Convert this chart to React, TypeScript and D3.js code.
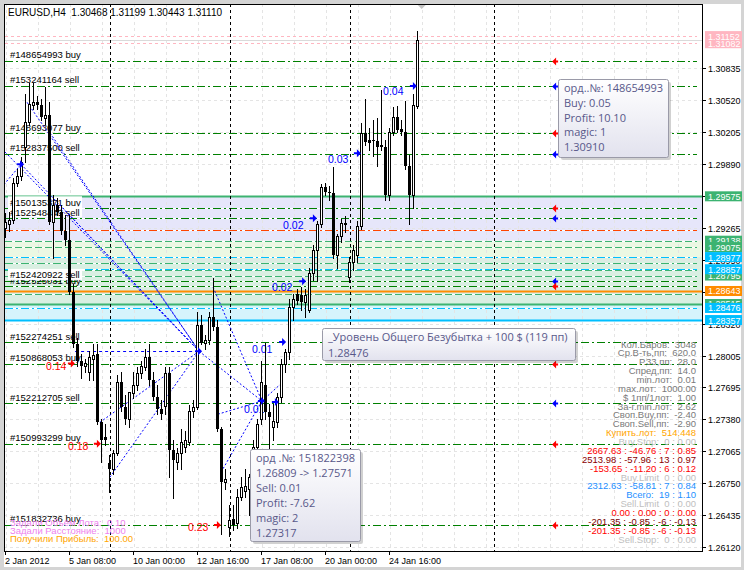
import React from "react";
import * as d3 from "d3";

const W = 744;
const H = 570;
const PL = 4, PT = 4, PR = 702, PB = 551;
const F = "'Liberation Sans', Arial, sans-serif";
const TF = "'Open Sans', 'Liberation Sans', sans-serif";

// ---- Data ----
const symbolTitle = "EURUSD,H4  1.30468 1.31199 1.30443 1.31110";
const timeLabels = ["2 Jan 2012", "5 Jan 08:00", "10 Jan 00:00", "12 Jan 16:00", "17 Jan 08:00", "20 Jan 00:00", "24 Jan 16:00"];
const timeLabelBars = [0, 16, 32, 48, 64, 80, 96];
const separatorBars = [26, 56, 86, 122];
const priceTicks = [1.30835, 1.3052, 1.30205, 1.2989, 1.2958, 1.29265, 1.2895, 1.28635, 1.2832, 1.28005, 1.27695, 1.2738, 1.27065, 1.2675, 1.26435, 1.2612];

const opens = [
  1.2926, 1.2930, 1.2934, 1.2971, 1.2977, 1.3006, 1.3031, 1.3047, 1.3050, 1.3047,
  1.3035, 1.3038, 1.2932, 1.2949, 1.2942, 1.2923, 1.2914, 1.2863, 1.2812, 1.2795,
  1.2790, 1.2785, 1.2797, 1.2802, 1.2735, 1.2721, 1.2695, 1.2689, 1.2705, 1.2775,
  1.2750, 1.2738, 1.2764, 1.2772, 1.2784, 1.2789, 1.2799, 1.2777, 1.2760, 1.2748,
  1.2751, 1.2784, 1.2708, 1.2696, 1.2705, 1.2711, 1.2716, 1.2746, 1.2750, 1.2831,
  1.2813, 1.2816, 1.2839, 1.2829, 1.2728, 1.2676, 1.2632, 1.2640, 1.2636, 1.2662,
  1.2667, 1.2669, 1.2682, 1.2711, 1.2738, 1.2772, 1.2745, 1.2730, 1.2735, 1.2760,
  1.2792, 1.2804, 1.2849, 1.2861, 1.2860, 1.2853, 1.2846, 1.2882, 1.2905, 1.2930,
  1.2967, 1.2962, 1.2961, 1.2900, 1.2918, 1.2930, 1.2878, 1.2893, 1.2900, 1.2928,
  1.3020, 1.3013, 1.3013, 1.3012, 1.3008, 1.3006, 1.2959, 1.3021, 1.3036, 1.3024,
  1.3021, 1.2987, 1.2959, 1.30468,
];
const highs = [
  1.2941, 1.2942, 1.2976, 1.2984, 1.2996, 1.3058, 1.3069, 1.3069, 1.3056, 1.3053,
  1.3065, 1.3050, 1.2959, 1.2956, 1.2949, 1.2939, 1.2939, 1.2871, 1.2818, 1.2802,
  1.2797, 1.2805, 1.2812, 1.2812, 1.2738, 1.2733, 1.2703, 1.2708, 1.2782, 1.2785,
  1.2762, 1.2757, 1.2785, 1.2789, 1.2795, 1.2807, 1.2812, 1.2785, 1.2772, 1.2757,
  1.2789, 1.2789, 1.2718, 1.2710, 1.2728, 1.2726, 1.2752, 1.2757, 1.2844, 1.2841,
  1.2821, 1.2844, 1.2877, 1.2836, 1.2730, 1.2689, 1.2654, 1.2654, 1.2669, 1.2681,
  1.2689, 1.2684, 1.2718, 1.2738, 1.2795, 1.2813, 1.2753, 1.2753, 1.2764, 1.2797,
  1.2807, 1.2856, 1.2861, 1.2866, 1.2868, 1.2866, 1.2887, 1.2910, 1.2933, 1.2970,
  1.2971, 1.2968, 1.2986, 1.2920, 1.2935, 1.2938, 1.2898, 1.2910, 1.2933, 1.3030,
  1.3053, 1.3025, 1.3033, 1.3035, 1.3062, 1.3013, 1.3025, 1.3045, 1.3046, 1.3033,
  1.3051, 1.2998, 1.3058, 1.31199,
];
const lows = [
  1.2917, 1.2923, 1.2931, 1.2968, 1.2974, 1.2991, 1.3028, 1.3043, 1.3043, 1.3033,
  1.3029, 1.2930, 1.2897, 1.2939, 1.2920, 1.2910, 1.2861, 1.2809, 1.2790, 1.2779,
  1.2785, 1.2777, 1.2777, 1.2733, 1.2696, 1.2713, 1.2666, 1.2684, 1.2703, 1.2746,
  1.2733, 1.2730, 1.2759, 1.2767, 1.2779, 1.2787, 1.2772, 1.2757, 1.2743, 1.2738,
  1.2743, 1.2681, 1.2661, 1.2689, 1.2689, 1.2706, 1.2713, 1.2740, 1.2748, 1.2812,
  1.2807, 1.2812, 1.2826, 1.2726, 1.2625, 1.2669, 1.2623, 1.2629, 1.2631, 1.2659,
  1.2662, 1.2644, 1.2679, 1.2708, 1.2733, 1.2738, 1.2708, 1.2718, 1.2730, 1.2755,
  1.2785, 1.2797, 1.2836, 1.2851, 1.2846, 1.2839, 1.2844, 1.2875, 1.2874, 1.2927,
  1.2959, 1.2954, 1.2897, 1.2887, 1.2913, 1.2922, 1.2873, 1.2885, 1.2893, 1.2925,
  1.3008, 1.3003, 1.2997, 1.2987, 1.3003, 1.2954, 1.2954, 1.3018, 1.3021, 1.3018,
  1.2984, 1.2930, 1.2946, 1.30443,
];
const closes = [
  1.2932, 1.2934, 1.2971, 1.2977, 1.2991, 1.3031, 1.3048, 1.3050, 1.3047, 1.3036,
  1.3038, 1.2932, 1.2949, 1.2942, 1.2923, 1.2914, 1.2863, 1.2812, 1.2795, 1.2790,
  1.2793, 1.2799, 1.2801, 1.2735, 1.2718, 1.2718, 1.2689, 1.2705, 1.2775, 1.2750,
  1.2738, 1.2765, 1.2772, 1.2784, 1.2790, 1.2799, 1.2777, 1.2760, 1.2748, 1.2743,
  1.2784, 1.2708, 1.2698, 1.2705, 1.2716, 1.2718, 1.2746, 1.2750, 1.2831, 1.2813,
  1.2816, 1.2839, 1.2829, 1.2728, 1.2676, 1.2679, 1.2639, 1.2634, 1.2662, 1.2671,
  1.2672, 1.2681, 1.2711, 1.2733, 1.2775, 1.2745, 1.2740, 1.2736, 1.2760, 1.2792,
  1.2804, 1.2849, 1.2856, 1.2854, 1.2853, 1.2860, 1.2882, 1.2905, 1.2930, 1.2967,
  1.2962, 1.2961, 1.2900, 1.2918, 1.2931, 1.2931, 1.2893, 1.2905, 1.2928, 1.3020,
  1.3011, 1.3010, 1.3012, 1.3006, 1.3006, 1.2959, 1.3021, 1.3036, 1.3023, 1.3021,
  1.2987, 1.2959, 1.3047, 1.31110,
];

const orderPrices = [1.3091, 1.30661, 1.30195, 1.29994, 1.29457, 1.29359, 1.28742, 1.28692, 1.28138, 1.27925, 1.27538, 1.27137, 1.2634];
const orderTickets = ["#148654993", "#153241164", "#148693077", "#152837500", "#150135371", "#152548449", "#152420922", "#152525031", "#152274251", "#150868053", "#152212705", "#150993299", "#151832736"];
const orderTypes = ["buy", "sell", "buy", "sell", "buy", "sell", "sell", "buy", "sell", "buy", "sell", "buy", "buy"];
const orderHasMarker = [true, true, true, true, true, true, true, true, false, true, true, true, true];
const orderLabelBoxed = [false, false, false, false, true, true, true, false, false, false, false, false, false];
const orderLabelOrder = [0, 1, 2, 3, 4, 5, 7, 6, 8, 9, 10, 11, 12];

const bandEdges = [1.29575, 1.29138, 1.28977, 1.28515, 1.28357];
const bandColors = ["#e6e6fa", "#ebf8e3", "#d9efe2", "#d6f4fc"];

const levelPrices = [1.31152, 1.31082, 1.29575, 1.29243, 1.29138, 1.29075, 1.28918, 1.28977, 1.28845, 1.28857, 1.28795, 1.28643, 1.28611, 1.28515, 1.28476, 1.28357];
const levelColors = ["#ffb6c1", "#ffb6c1", "#3cb371", "#ff4500", "#3cb371", "#3cb371", "#3cb371", "#00bfff", "#3cb371", "#00bfff", "#3cb371", "#ff8c00", "#3cb371", "#3cb371", "#00bfff", "#00bfff"];
const levelStyles = ["dash", "dash", "solid", "dashdot", "dashlong", "dashlong", "dashdot", "dashdot", "dashlong", "dashdot", "dashlong", "solid", "dashlong", "solid", "dashdot", "solid"];

const axisBadgePrices = [1.31082, 1.31152, 1.29575, 1.29138, 1.29075, 1.28977, 1.28795, 1.28857, 1.28643, 1.28515, 1.28476, 1.28357];
const axisBadgeColors = ["#ffb6c1", "#ffb6c1", "#3cb371", "#3cb371", "#3cb371", "#00bfff", "#3cb371", "#00bfff", "#ff8c00", "#3cb371", "#00bfff", "#00bfff"];

const bidPrice = 1.3111;

// blue dotted trade links: [bar1, price1, bar2, price2]
const tradeLinks = [
  [0.1, 1.3001, 48.6, 1.2805],
  [4.1, 1.2989, 48.6, 1.2805],
  [5.6, 1.3050, 48.6, 1.2805],
  [10.8, 1.3023, 48.6, 1.2805],
  [13.8, 1.2949, 48.6, 1.2805],
  [26.3, 1.2681, 48.6, 1.2805],
  [23.8, 1.2735, 48.6, 1.2805],
  [-0.2, 1.2969, 4.1, 1.2989],
  [48.6, 1.2805, 64.3, 1.2756],
  [52.1, 1.2868, 64.3, 1.2756],
  [54.1, 1.2686, 64.3, 1.2756],
  [53.3, 1.2743, 64.3, 1.2756],
  [64.3, 1.2756, 68.8, 1.2772],
];
const tradeHLink = [17.6, 1.2805, 48.6, 1.2805];

const blueArrowBars = [4.1, 48.6, 64.3, 67.8, 69.6, 74.6, 77.3, 88.3, 102.3];
const blueArrowPrices = [1.2989, 1.2805, 1.2756, 1.2755, 1.2814, 1.2874, 1.2936, 1.3000, 1.3066];
const redArrowBars = [16.8, 23.3, 53.3];
const redArrowPrices = [1.2793, 1.2714, 1.2634];
const blueLotBars = [69.6, 66.8, 80.8, 94.6, 61.8, 59.8];
const blueLotPrices = [1.2925, 1.2864, 1.2990, 1.3057, 1.2803, 1.2744];
const blueLots = ["0.02", "0.02", "0.03", "0.04", "0.01", "0.01"];
const redLotBars = [10.3, 15.8, 45.8];
const redLotPrices = [1.2787, 1.2708, 1.2628];
const redLots = ["0.14", "0.18", "0.23"];
const markerBar = 137.6;
const shiftBar = 104.25;

const panelTexts = [
  "Кол.Баров:  3048", "Ср.В-ть,пп:  620.0", "Р.33,пп:  28.0", "Спред,пп:  14.0", "min.лот:  0.01",
  "max.лот:  1000.00", "$ 1пп/1лот:  1.00", "За-г.min.лот:  2.62", "Своп.Buy,пп:  -2.40", "Своп.Sell,пп:  -2.90",
  "Купить.лот:  514.448", "Buy.Stop:  0 : 0.00", "2667.63 : -46.76 : 7 : 0.85", "2513.98 : -57.96 : 13 : 0.97",
  "-153.65 : -11.20 : 6 : 0.12", "Buy.Limit  0 : 0.00", "2312.63 : -58.81 : 7 : 0.84", "Всего:  19 : 1.10",
  "Sell.Limit  0 : 0.00", "0.00 : 0.00 : 0 : 0.00", "-201.35 : -0.85 : -6 : -0.13", "-201.35 : -0.85 : -6 : -0.13", "Sell.Stop:  0 : 0.00",
];
const panelColors = [
  "#7a7a7a", "#7a7a7a", "#7a7a7a", "#7a7a7a", "#7a7a7a", "#7a7a7a", "#7a7a7a", "#7a7a7a", "#7a7a7a", "#7a7a7a",
  "#ffa500", "#c0c0c0", "#ff0000", "#8b0000", "#ff0000", "#c0c0c0", "#1e90ff", "#1e90ff", "#c0c0c0", "#ff0000",
  "#7a0000", "#ff0000", "#c0c0c0",
];
const infoTexts = ["Задали Объём Лота:  0.10", "Задали Расстояние:  1000", "Получили Прибыль:  100.00"];
const infoColors = ["#ee82ee", "#ee82ee", "#ffa500"];

const tip1 = ["орд..№: 148654993", "Buy: 0.05", "Profit: 10.10", "magic: 1", "1.30910"];
const tip2 = ["_Уровень Общего Безубытка + 100 $ (119 пп)", "1.28476"];
const tip3 = ["орд .№: 151822398", "1.26809 -> 1.27571", "Sell: 0.01", "Profit: -7.62", "magic: 2", "1.27317"];

// ---- Scales ----
const x = d3.scaleLinear().domain([0, 103]).range([4.7, 416.7]);
const y = d3.scaleLinear().domain([1.2612, 1.30835]).range([547.3, 68.3]);

const dashFor = (s: string) =>
  s === "dash" ? "3,3" : s === "dashdot" ? "8,3,2,3" : s === "dashlong" ? "7,3" : undefined;

function Tooltip({ x0, y0, w, h, lines, step }: any) {
  return (
    <g>
      <rect x={x0 + 3} y={y0 + 3} width={w} height={h} fill="#000" opacity={0.18} rx={2} />
      <rect x={x0 + 0.5} y={y0 + 0.5} width={w} height={h} fill="url(#tipg)" stroke="#9a9aa8" rx={2} />
      {lines.map((t: string, k: number) => (
        <text key={k} x={x0 + 6} y={y0 + 13 + k * step} fontFamily={TF} fontSize={11} fill="#58588a" style={{ whiteSpace: "pre" }}>
          {t}
        </text>
      ))}
    </g>
  );
}

export default function App() {
  const px = (v: number) => Math.round(v);
  const arrowRight = (cx: number, cy: number) =>
    `M${cx - 4},${cy - 1}h3v-3l4,4l-4,4v-3h-3z`;
  const markerLeft = (cx: number, cy: number) =>
    `M${cx - 3},${cy}l4,-4v8z M${cx + 1},${cy - 1}h2v2h-2z`;

  const vGrid: number[] = [];
  for (let i = 0; x(i) < PR; i += 8) vGrid.push(i);

  return (
    <svg width={W} height={H} style={{ position: "absolute", left: 0, top: 0, display: "block" }}>
      <defs>
        <linearGradient id="tipg" x1="0" y1="0" x2="0" y2="1">
          <stop offset="0" stopColor="#ffffff" />
          <stop offset="1" stopColor="#e2e2ee" />
        </linearGradient>
        <clipPath id="plot">
          <rect x={PL + 1} y={PT + 1} width={PR - PL - 1} height={PB - PT - 1} />
        </clipPath>
      </defs>
      <rect x={0} y={0} width={W} height={H} fill="#d4d4d4" />
      <rect x={PL} y={PT} width={741 - PL} height={567 - PT} fill="#ffffff" />

      <g clipPath="url(#plot)">
        {bandColors.map((c, k) => (
          <rect key={k} x={PL} y={y(bandEdges[k])} width={PR - PL} height={y(bandEdges[k + 1]) - y(bandEdges[k])} fill={c} />
        ))}
        {priceTicks.map((p, k) => (
          <line key={k} x1={PL} x2={PR} y1={px(y(p)) + 0.5} y2={px(y(p)) + 0.5} stroke="#e4e4e4" strokeDasharray="3,3" />
        ))}
        {vGrid.map((i) => (
          <line key={i} x1={px(x(i)) + 1.5} x2={px(x(i)) + 1.5} y1={PT} y2={PB} stroke="#e4e4e4" strokeDasharray="3,3" />
        ))}
        <line x1={PL} x2={PR} y1={px(y(bidPrice)) + 0.5} y2={px(y(bidPrice)) + 0.5} stroke="#dadada" />
        {levelPrices.map((p, k) => {
          const yy = px(y(p)) + 0.5;
          const st = levelStyles[k];
          if (st === "solid")
            return <line key={k} x1={PL} x2={PR} y1={yy} y2={yy} stroke={levelColors[k]} strokeWidth={2} />;
          return (
            <g key={k}>
              <line x1={PL + 1} x2={697} y1={yy} y2={yy} stroke="#ffffff" />
              <line x1={PL + 1} x2={697} y1={yy} y2={yy} stroke={levelColors[k]} strokeDasharray={dashFor(st)} />
            </g>
          );
        })}
        {orderPrices.map((p, k) => {
          const yy = px(y(p)) + 0.5;
          return (
            <g key={k}>
              <line x1={PL + 1} x2={697} y1={yy} y2={yy} stroke="#ffffff" />
              <line x1={PL + 1} x2={697} y1={yy} y2={yy} stroke="#008000" strokeDasharray="8,3,2,3" />
            </g>
          );
        })}
        {separatorBars.map((i) => (
          <line key={i} x1={px(x(i)) + 1.5} x2={px(x(i)) + 1.5} y1={PT} y2={PB} stroke="#000" strokeDasharray="3,3" />
        ))}
        {orderLabelOrder.map((k) => {
          const yy = y(orderPrices[k]);
          const label = `${orderTickets[k]} ${orderTypes[k]}`;
          return (
            <g key={k}>
              {orderLabelBoxed[k] && <rect x={8} y={yy - 12} width={74} height={11} fill="#ffffff" />}
              <text x={10} y={yy - 2.5} fontFamily={F} fontSize={9.5} fill="#000">{label}</text>
            </g>
          );
        })}
        {blueLots.map((t, k) => (
          <text key={k} x={x(blueLotBars[k])} y={y(blueLotPrices[k])} fontFamily={F} fontSize={10.5} fill="#0000ff">{t}</text>
        ))}
        {redLots.map((t, k) => (
          <text key={k} x={x(redLotBars[k])} y={y(redLotPrices[k])} fontFamily={F} fontSize={10.5} fill="#ff0000">{t}</text>
        ))}
        {tradeLinks.map((s, k) => (
          <line key={k} x1={x(s[0])} y1={y(s[1])} x2={x(s[2])} y2={y(s[3])} stroke="#0000ff" strokeDasharray="2,2" />
        ))}
        <line x1={x(tradeHLink[0])} x2={x(tradeHLink[2])} y1={px(y(tradeHLink[1])) + 0.5} y2={px(y(tradeHLink[3])) + 0.5} stroke="#0000ff" strokeDasharray="3,3" />
        <g shapeRendering="crispEdges">
          {opens.map((o, i) => {
            const c = closes[i];
            const hi = Math.max(highs[i], o, c);
            const lo = Math.min(lows[i], o, c);
            const cx = px(x(i));
            const yo = y(o), yc = y(c);
            const top = px(Math.min(yo, yc));
            const bot = px(Math.max(yo, yc));
            const bull = c >= o;
            return (
              <g key={i}>
                <line x1={cx + 0.5} x2={cx + 0.5} y1={px(y(hi))} y2={px(y(lo)) + 1} stroke="#000" />
                {bull ? (
                  <rect x={cx - 0.5} y={top + 0.5} width={2} height={Math.max(bot - top, 0)} fill="#fff" stroke="#000" />
                ) : (
                  <rect x={cx - 1} y={top} width={3} height={Math.max(bot - top, 1)} fill="#000" />
                )}
              </g>
            );
          })}
        </g>
        {blueArrowBars.map((b, k) => (
          <path key={k} d={arrowRight(x(b), y(blueArrowPrices[k]))} fill="#0000ff" />
        ))}
        {redArrowBars.map((b, k) => (
          <path key={k} d={arrowRight(x(b), y(redArrowPrices[k]))} fill="#ff0000" />
        ))}
        {orderPrices.map((p, k) =>
          orderHasMarker[k] ? (
            <path key={k} d={markerLeft(x(markerBar), px(y(p)) + 0.5)} fill={orderTypes[k] === "buy" ? "#ff0000" : "#0000ff"} />
          ) : null
        )}
      </g>

      <path d={`M${x(shiftBar) - 4},${PT + 1}h8l-4,4z`} fill="#c4c4c4" />

      <rect x={PL + 0.5} y={PT + 0.5} width={PR - PL} height={PB - PT} fill="none" stroke="#000" />

      {priceTicks.map((p, k) => {
        const yy = px(y(p)) + 0.5;
        return (
          <g key={k}>
            <line x1={PR} x2={PR + 4} y1={yy} y2={yy} stroke="#000" />
            <text x={PR + 6} y={yy + 3.5} fontFamily={F} fontSize={9} fill="#000">{p.toFixed(5)}</text>
          </g>
        );
      })}
      {axisBadgePrices.map((p, k) => {
        const yy = y(p);
        return (
          <g key={k}>
            <rect x={PR + 3} y={yy - 5} width={37} height={10} fill={axisBadgeColors[k]} />
            <text x={PR + 6} y={yy + 3.5} fontFamily={F} fontSize={9} fill="#ffffff">{p.toFixed(5)}</text>
          </g>
        );
      })}

      {timeLabelBars.map((b, k) => (
        <g key={k}>
          <line x1={px(x(b)) + 0.5} x2={px(x(b)) + 0.5} y1={PB} y2={PB + 4} stroke="#000" />
          <text x={px(x(b))} y={563.5} fontFamily={F} fontSize={9} fill="#000">{timeLabels[k]}</text>
        </g>
      ))}

      <text x={8} y={16} fontFamily={F} fontSize={10} fill="#000" style={{ whiteSpace: "pre" }}>{symbolTitle}</text>

      {panelTexts.map((t, k) => (
        <text key={k} x={696} y={347.5 + k * 8.87} textAnchor="end" fontFamily={F} fontSize={9.5} fill={panelColors[k]} style={{ whiteSpace: "pre" }}>
          {t}
        </text>
      ))}
      {infoTexts.map((t, k) => (
        <text key={k} x={10} y={525.5 + k * 8.3} fontFamily={F} fontSize={9.5} fill={infoColors[k]} style={{ whiteSpace: "pre" }}>
          {t}
        </text>
      ))}

      <Tooltip x0={558} y0={79} w={110} h={78} lines={tip1} step={14.8} />
      <Tooltip x0={322} y0={328} w={253} h={32} lines={tip2} step={15.5} />
      <Tooltip x0={250} y0={449} w={110} h={92} lines={tip3} step={15} />
    </svg>
  );
}
